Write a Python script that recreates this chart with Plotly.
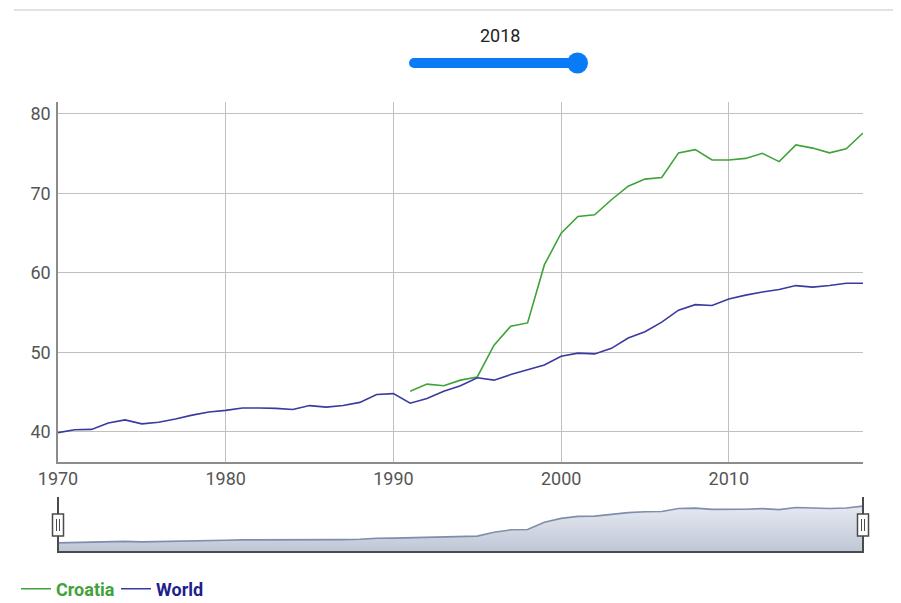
import plotly.graph_objects as go

years = list(range(1970, 2019))

world = [39.9, 40.25, 40.3, 41.1, 41.5, 41.0, 41.2, 41.6, 42.1, 42.5,
         42.7, 43.0, 43.0, 42.95, 42.8, 43.3, 43.1, 43.3, 43.7, 44.7,
         44.8, 43.6, 44.2, 45.1, 45.8, 46.8, 46.5, 47.2, 47.8, 48.4,
         49.5, 49.9, 49.8, 50.5, 51.8, 52.6, 53.8, 55.3, 56.0, 55.9,
         56.7, 57.2, 57.6, 57.9, 58.4, 58.2, 58.4, 58.7, 58.7]

croatia = [None] * 21 + [45.1, 46.0, 45.8, 46.5, 46.9, 50.9, 53.3, 53.7, 61.0,
                          65.0, 67.1, 67.3, 69.2, 70.9, 71.8, 72.0, 75.1, 75.5, 74.2,
                          74.2, 74.4, 75.05, 74.0, 76.1, 75.7, 75.1, 75.6, 77.6]

# navigator series: Croatia where present, else World
navigator = [c if c is not None else w for c, w in zip(croatia, world)]

y_ticks = [40, 50, 60, 70, 80]
x_ticks = [1970, 1980, 1990, 2000, 2010]

GREEN = "#3fa23a"
NAVY = "#3a3aa0"
FONT = "Roboto"

# page body has an 8px margin: work in window pixels and convert
OFF = 8
W, H = 901 - OFF, 603 - OFF
L, R, T, B = 58, 863, 102, 552          # window pixel coords of plot area
pw, ph = R - L, B - T


def px_x(px):
    return (px - L) / pw


def px_y(py):
    return (B - py) / ph


fig = go.Figure()

fig.add_trace(go.Scatter(x=years, y=croatia, name="Croatia", mode="lines",
                         line=dict(color=GREEN, width=1.6),
                         xaxis="x", yaxis="y", legend="legend",
                         connectgaps=False))
fig.add_trace(go.Scatter(x=years, y=world, name="World", mode="lines",
                         line=dict(color=NAVY, width=1.6),
                         xaxis="x", yaxis="y", legend="legend2"))

fig.add_trace(go.Scatter(x=years, y=navigator, mode="lines", showlegend=False,
                         line=dict(color="#7f8eac", width=1.6),
                         fill="tozeroy",
                         fillgradient=dict(type="vertical",
                                           colorscale=[[0, "#a5afc5"], [1, "#e6e9f0"]]),
                         xaxis="x2", yaxis="y2", hoverinfo="skip"))

DARK = "#4a4a4a"
shapes = []
# top separator line
shapes.append(dict(type="line", xref="paper", yref="paper",
                   x0=px_x(14), x1=px_x(901), y0=px_y(10), y1=px_y(10),
                   line=dict(color="#e2e2e2", width=2)))
# slider track
shapes.append(dict(type="line", xref="paper", yref="paper",
                   x0=px_x(414), x1=px_x(576), y0=px_y(63), y1=px_y(63),
                   line=dict(color="#0a7bf7", width=10)))
shapes.append(dict(type="circle", xref="paper", yref="paper",
                   x0=px_x(409), x1=px_x(419), y0=px_y(68), y1=px_y(58),
                   fillcolor="#0a7bf7", line=dict(width=0)))
shapes.append(dict(type="circle", xref="paper", yref="paper",
                   x0=px_x(567), x1=px_x(588), y0=px_y(73.5), y1=px_y(52.5),
                   fillcolor="#0a7bf7", line=dict(width=0)))
# navigator bottom line
shapes.append(dict(type="line", xref="paper", yref="paper",
                   x0=0, x1=1, y0=px_y(552), y1=px_y(552),
                   line=dict(color=DARK, width=2)))
# navigator handles at both ends of the selected range
for xa in (0, 1):
    shapes.append(dict(type="line", xref="paper", yref="paper",
                       x0=xa, x1=xa, y0=px_y(497), y1=px_y(553),
                       line=dict(color=DARK, width=2)))
    shapes.append(dict(type="rect", xref="paper", yref="paper",
                       xsizemode="pixel", xanchor=xa, x0=-5.5, x1=5.5,
                       y0=px_y(536), y1=px_y(514),
                       fillcolor="white", line=dict(color=DARK, width=1.5)))
    for dx in (-1.5, 1.5):
        shapes.append(dict(type="line", xref="paper", yref="paper",
                           xsizemode="pixel", xanchor=xa, x0=dx, x1=dx,
                           y0=px_y(519), y1=px_y(531),
                           line=dict(color=DARK, width=1)))

fig.update_layout(shapes=shapes)

fig.add_annotation(text=str(years[-1]), xref="paper", yref="paper",
                   x=px_x(500), y=px_y(35), showarrow=False,
                   xanchor="center", yanchor="middle",
                   font=dict(family=FONT, size=18, color="#222222"))

fig.update_layout(
    width=W, height=H,
    margin=dict(l=L - OFF, r=W - (R - OFF), t=T - OFF, b=H - (B - OFF), autoexpand=False),
    paper_bgcolor="white", plot_bgcolor="white",
    font=dict(family=FONT),
    xaxis=dict(range=[years[0], years[-1]], tickvals=x_ticks,
               showgrid=True, gridcolor="#c0c0c0", gridwidth=1,
               showline=True, linecolor="#8c8c8c", linewidth=1.5,
               zeroline=False, ticks="", ticklabelstandoff=0,
               tickfont=dict(family=FONT, size=18, color="#555555"),
               anchor="y"),
    yaxis=dict(domain=[px_y(462), 1], range=[36.2, 81.5], tickvals=y_ticks,
               showgrid=True, gridcolor="#c0c0c0", gridwidth=1,
               showline=True, linecolor="#8c8c8c", linewidth=1.5,
               zeroline=False, ticks="", ticklabelstandoff=2,
               tickfont=dict(family=FONT, size=18, color="#555555")),
    xaxis2=dict(range=[years[0], years[-1]], anchor="y2", visible=False),
    yaxis2=dict(domain=[0, px_y(497)], range=[30.6, 86.9], visible=False),
    legend=dict(orientation="h", x=px_x(16), y=px_y(589), xanchor="left", yanchor="middle",
                font=dict(family=FONT, size=18, color=GREEN, weight="bold"),
                itemwidth=30, bgcolor="rgba(0,0,0,0)"),
    legend2=dict(orientation="h", x=px_x(116), y=px_y(589), xanchor="left", yanchor="middle",
                 font=dict(family=FONT, size=18, color="#1f1f8c", weight="bold"),
                 itemwidth=30, bgcolor="rgba(0,0,0,0)"),
    hovermode=False,
)

fig.write_html("out.html")
